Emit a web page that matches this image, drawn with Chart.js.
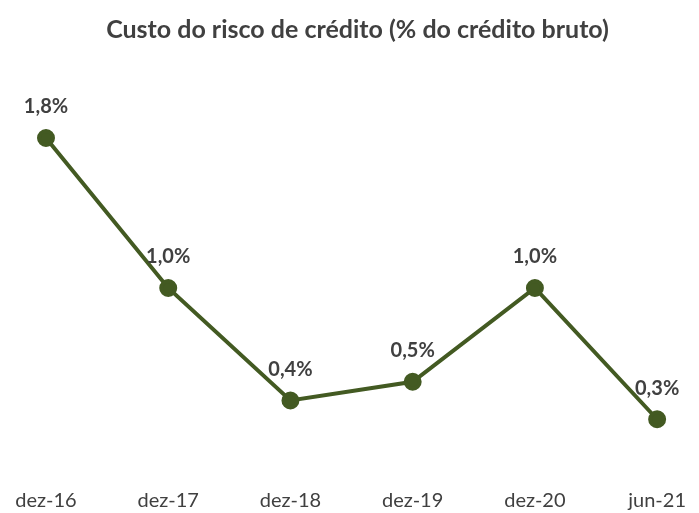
<!DOCTYPE html>
<html>
<head>
<meta charset="utf-8">
<script src="https://cdn.jsdelivr.net/npm/chart.js@4"></script>
<style>
  html, body { margin: 0; padding: 0; background: #fff; }
  #wrap { width: 699px; height: 513px; }
</style>
</head>
<body>
<div id="wrap"><canvas id="chartCanvas"></canvas></div>
<script>
const periods = ['dez-16', 'dez-17', 'dez-18', 'dez-19', 'dez-20', 'jun-21']
const riskCost = [1.8, 1.0, 0.4, 0.5, 1.0, 0.3]
const chartTitle = 'Custo do risco de crédito (% do crédito bruto)'

const lineColor = '#435a22'
const textColor = '#404040'
const fontFamily = 'Lato, "Open Sans", sans-serif'

// draws the value labels above each point
const valueLabels = {
    id: 'valueLabels',
    afterDatasetsDraw(chart) {
        const ctx = chart.ctx
        const meta = chart.getDatasetMeta(0)
        ctx.save()
        ctx.font = `bold 20px ${fontFamily}`
        ctx.fillStyle = textColor
        ctx.textAlign = 'center'
        ctx.textBaseline = 'middle'
        meta.data.forEach((pt, i) => {
            const txt = riskCost[i].toFixed(1).replace('.', ',') + '%'
            ctx.fillText(txt, pt.x, pt.y - 31)
        })
        ctx.restore()
    }
}

const ctx = document.getElementById('chartCanvas').getContext('2d')
new Chart(ctx, {
    type: 'line',
    data: {
        labels: periods,
        datasets: [{
            data: riskCost,
            borderColor: lineColor,
            backgroundColor: lineColor,
            borderWidth: 4,
            pointRadius: 7,
            pointHoverRadius: 7,
            tension: 0
        }]
    },
    options: {
        responsive: true,
        maintainAspectRatio: false,
        animation: false,
        layout: { padding: { left: 46, right: 30, top: 0, bottom: -12.5 } },
        plugins: {
            legend: { display: false },
            tooltip: { enabled: false },
            title: {
                display: true,
                text: chartTitle,
                color: textColor,
                font: { family: fontFamily, size: 25, weight: 'bold' },
                padding: { top: 15, bottom: 55.5 }
            }
        },
        scales: {
            x: {
                offset: false,
                grid: { display: false, drawTicks: false },
                border: { display: false },
                ticks: {
                    color: textColor,
                    font: { family: fontFamily, size: 20 },
                    padding: 13,
                    maxRotation: 0
                }
            },
            y: {
                display: false,
                min: 0,
                max: 2.0
            }
        }
    },
    plugins: [valueLabels]
})
</script>
</body>
</html>
